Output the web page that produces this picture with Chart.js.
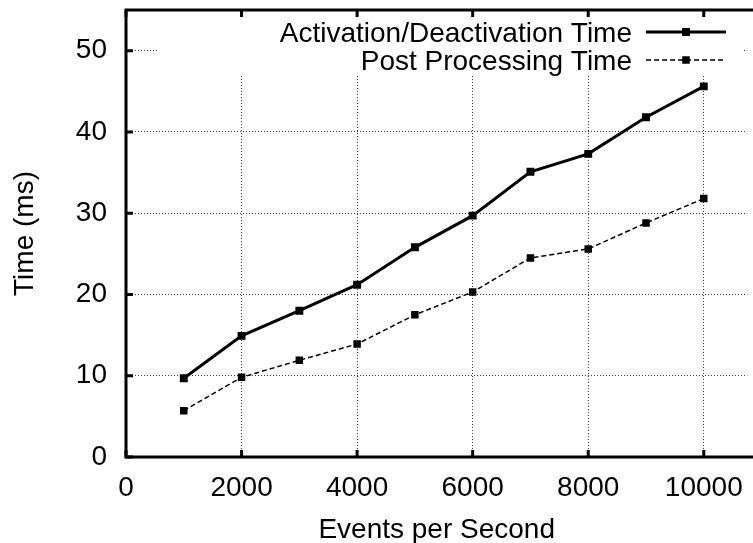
<!DOCTYPE html>
<html>
<head>
<meta charset="utf-8">
<title>Time vs Events per Second</title>
<script src="https://cdn.jsdelivr.net/npm/chart.js@4.4.0/dist/chart.umd.min.js"></script>
<style>
    html, body { margin: 0; padding: 0; background: #fff; overflow: hidden; }
    canvas { display: block; }
</style>
</head>
<body>
<canvas id="timeChart" width="753" height="543"></canvas>
<script>
// Values
const eventsPerSecond = [1000, 2000, 3000, 4000, 5000, 6000, 7000, 8000, 9000, 10000];
const activationTime = [9.7, 14.9, 18.0, 21.2, 25.8, 29.7, 35.1, 37.3, 41.8, 45.6];
const postProcessingTime = [5.7, 9.8, 11.9, 13.9, 17.5, 20.3, 24.5, 25.6, 28.8, 31.8];
const seriesNames = ['Activation/Deactivation Time', 'Post Processing Time'];
const xTickValues = [0, 2000, 4000, 6000, 8000, 10000];
const yTickValues = [0, 10, 20, 30, 40, 50];

const FONT = "'Liberation Sans', Arial, Helvetica, sans-serif";
Chart.defaults.font.family = FONT;
Chart.defaults.font.size = 28;
Chart.defaults.color = '#000';

// Helper to pair x values with y values
function toPoints(ys) {
    return eventsPerSecond.map((x, i) => ({ x: x, y: ys[i] }));
}

// Keep the plot box fixed: no extra room for tick labels
function noPadding(scale) {
    scale.paddingTop = 0;
    scale.paddingBottom = 0;
    scale.paddingLeft = 0;
    scale.paddingRight = 0;
}

// White key box drawn over the grid (gnuplot style)
const keyBoxPlugin = {
    id: 'keyBox',
    beforeDatasetsDraw(chart) {
        const a = chart.chartArea;
        const c = chart.ctx;
        c.save();
        c.fillStyle = '#fff';
        c.fillRect(a.left + 32, a.top + 2, (chart.width - 9) - (a.left + 32), 62);
        c.restore();
    }
};

// Thick frame, inward ticks and the key entries
const framePlugin = {
    id: 'frame',
    afterDatasetsDraw(chart) {
        const a = chart.chartArea;
        const c = chart.ctx;
        const xs = chart.scales.x;
        const ys = chart.scales.y;
        const edge = chart.width;
        c.save();
        c.strokeStyle = '#000';
        c.lineWidth = 3;
        c.lineCap = 'square';
        c.beginPath();
        c.moveTo(edge + 5, a.top);
        c.lineTo(a.left, a.top);
        c.lineTo(a.left, a.bottom);
        c.lineTo(edge + 5, a.bottom);
        c.stroke();

        c.lineCap = 'butt';
        c.beginPath();
        xTickValues.forEach(v => {
            const px = xs.getPixelForValue(v);
            c.moveTo(px, a.bottom);
            c.lineTo(px, a.bottom - 7);
            c.moveTo(px, a.top);
            c.lineTo(px, a.top + 7);
        });
        yTickValues.forEach(v => {
            const py = ys.getPixelForValue(v);
            c.moveTo(a.left, py);
            c.lineTo(a.left + 7, py);
        });
        c.stroke();

        // key
        c.font = '28px ' + FONT;
        c.textAlign = 'right';
        c.textBaseline = 'alphabetic';
        chart.data.datasets.forEach((ds, i) => {
            const base = a.top + 32 + i * 28;
            const ly = base - 10;
            c.fillStyle = '#000';
            c.fillText(ds.label, edge - 121, base);
            c.beginPath();
            c.strokeStyle = ds.borderColor;
            c.lineWidth = ds.borderWidth;
            c.setLineDash(ds.borderDash || []);
            c.moveTo(edge - 107, ly);
            c.lineTo(edge - 27, ly);
            c.stroke();
            c.setLineDash([]);
            const s = ds.pointRadius * Math.SQRT1_2;
            c.fillRect(edge - 67 - s, ly - s, 2 * s, 2 * s);
        });
        c.restore();
    }
};

const timeChart = new Chart(document.getElementById('timeChart'), {
    type: 'line',
    data: {
        datasets: [{
            label: seriesNames[0],
            data: toPoints(activationTime),
            borderColor: '#000',
            backgroundColor: '#000',
            borderWidth: 3,
            pointStyle: 'rect',
            pointRadius: 5.6,
            pointBorderWidth: 0,
            pointBackgroundColor: '#000',
            tension: 0
        }, {
            label: seriesNames[1],
            data: toPoints(postProcessingTime),
            borderColor: '#000',
            backgroundColor: '#000',
            borderWidth: 1.5,
            borderDash: [5, 3],
            pointStyle: 'rect',
            pointRadius: 5.3,
            pointBorderWidth: 0,
            pointBackgroundColor: '#000',
            tension: 0
        }]
    },
    options: {
        responsive: false,
        animation: false,
        layout: { padding: { top: 10, right: 0, left: 0, bottom: 0 } },
        plugins: {
            legend: { display: false },
            tooltip: { enabled: false }
        },
        scales: {
            x: {
                type: 'linear',
                min: 0,
                max: 10755,
                afterBuildTicks: scale => {
                    scale.ticks = xTickValues.map(v => ({ value: v }));
                },
                afterFit: scale => { scale.height = 86; noPadding(scale); },
                ticks: {
                    padding: 14,
                    maxRotation: 0,
                    autoSkip: false,
                    callback: v => String(v)
                },
                grid: {
                    color: ctx => ctx.tick && ctx.tick.value === 0 ? 'rgba(0,0,0,0)' : 'rgba(0,0,0,0.75)',
                    lineWidth: 1,
                    drawTicks: false
                },
                border: { display: false, dash: [1, 2] },
                title: {
                    display: true,
                    text: 'Events per Second',
                    font: { size: 28, lineHeight: 0.9 },
                    padding: { top: 0, bottom: 0 }
                }
            },
            y: {
                min: 0,
                max: 55,
                afterBuildTicks: scale => {
                    scale.ticks = yTickValues.map(v => ({ value: v }));
                },
                afterFit: scale => { scale.width = 126; noPadding(scale); },
                ticks: {
                    padding: 19,
                    callback: v => String(v)
                },
                grid: {
                    color: ctx => ctx.tick && ctx.tick.value === 0 ? 'rgba(0,0,0,0)' : 'rgba(0,0,0,0.75)',
                    lineWidth: 1,
                    drawTicks: false
                },
                border: { display: false, dash: [1, 2] },
                title: {
                    display: true,
                    text: 'Time (ms)',
                    font: { size: 28, lineHeight: 0.9 },
                    padding: { top: 12.7, bottom: 0 }
                }
            }
        }
    },
    plugins: [keyBoxPlugin, framePlugin]
});
</script>
</body>
</html>
